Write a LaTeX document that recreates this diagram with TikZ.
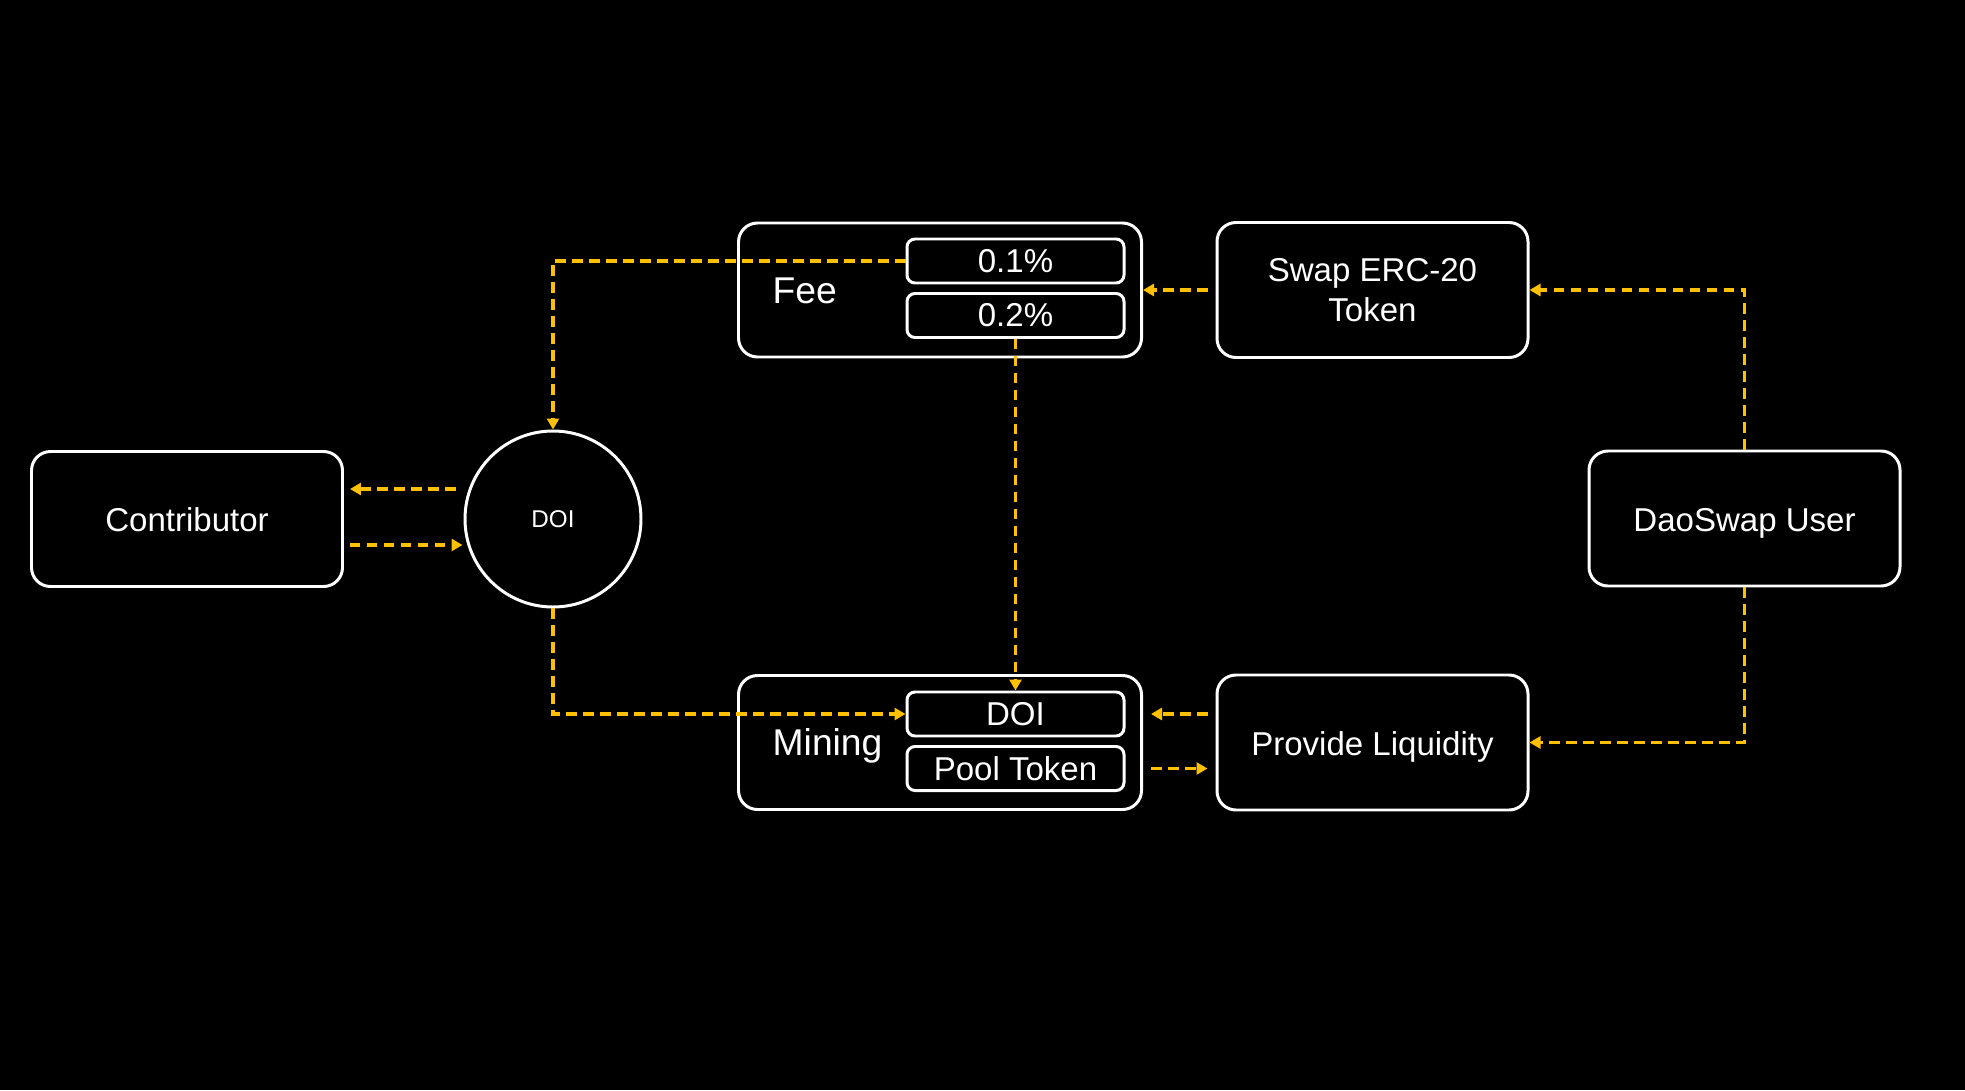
\documentclass[tikz,border=0pt]{standalone}
\usepackage{fontspec}
\setmainfont{Liberation Sans}
\usepackage{tikz}
\usetikzlibrary{shapes,arrows.meta,positioning,calc}
\definecolor{flowyellow}{RGB}{255,192,0}
\definecolor{nightblack}{RGB}{0,0,0}

\begin{document}
\begin{tikzpicture}[
    bigbox/.style={draw=white, line width=0.85pt, fill=nightblack, rounded corners=0.19cm, minimum width=3.11cm, minimum height=1.35cm, align=center, text=white, font=\fontsize{9.4}{11.4}\selectfont},
    onelinebox/.style={bigbox, text height=0.73em, text depth=0pt},
    groupbox/.style={bigbox, minimum width=4.03cm, minimum height=1.34cm},
    slotbox/.style={draw=white, line width=0.85pt, rounded corners=0.08cm, minimum width=2.17cm, minimum height=0.44cm, inner sep=1pt, text=white, font=\fontsize{9.4}{11.4}\selectfont},
    grouplabel/.style={anchor=west, inner sep=0pt, text=white, text height=0.73em, text depth=0pt, font=\fontsize{10.6}{12}\selectfont},
    flow/.style={draw=flowyellow, line width=1.1pt, dash pattern=on 1.05mm off 0.65mm, -{Triangle[length=1.1mm,width=1.2mm]}}
]
    % canvas
    \fill[nightblack] (0,0) rectangle (19.65,10.9);
    \useasboundingbox (0,0) rectangle (19.65,10.9);

    % left side
    \node[onelinebox] (contrib) at (1.87,5.71) {Contributor};
    \node[draw=white, line width=0.85pt, circle, minimum size=1.76cm, inner sep=0pt, text=white, font=\fontsize{6.9}{8}\selectfont] (dot) at (5.53,5.71) {DOI};

    % fee and mining groups
    \node[groupbox] (fee) at (9.40,8.00) {};
    \node[grouplabel] (feelabel) at (7.72,7.99) {Fee};
    \node[slotbox] (feelow) at (10.155,8.29) {0.1\%};
    \node[slotbox] (feehigh) at (10.155,7.745) {0.2\%};

    \node[groupbox] (mining) at (9.40,3.475) {};
    \node[grouplabel] (mininglabel) at (7.72,3.47) {Mining};
    \node[slotbox] (minedoi) at (10.155,3.76) {DOI};
    \node[slotbox] (pooltok) at (10.155,3.215) {Pool Token};

    % right side
    \node[bigbox] (swap) at (13.725,8.00) {Swap ERC-20\\Token};
    \node[onelinebox] (liq) at (13.725,3.475) {Provide Liquidity};
    \node[onelinebox] (user) at (17.445,5.715) {DaoSwap User};

    % connectors
    \draw[flow] (feelow.west) -| (dot.north);
    \draw[flow, shorten <=0.08cm] (swap.west) -- (fee.east);
    \draw[flow] (user.north) |- (swap.east);
    \draw[flow] (user.south) |- (liq.east);
    \draw[flow] (feehigh.south) -- (minedoi.north);
    \draw[flow] (dot.south) |- (minedoi.west);
    \draw[flow, shorten <=0.08cm, shorten >=0.08cm] (liq.west |- minedoi.west) -- (mining.east |- minedoi.west);
    \draw[flow, shorten <=0.08cm, shorten >=0.08cm] (mining.east |- pooltok.west) -- (liq.west |- pooltok.west);
    \draw[flow] ($(dot.west)+(-0.08,0.3)$) -- ($(contrib.east)+(0.06,0.3)$);
    \draw[flow] ($(contrib.east)+(0.06,-0.26)$) -- ($(dot.west)+(-0.01,-0.26)$);
\end{tikzpicture}
\end{document}
